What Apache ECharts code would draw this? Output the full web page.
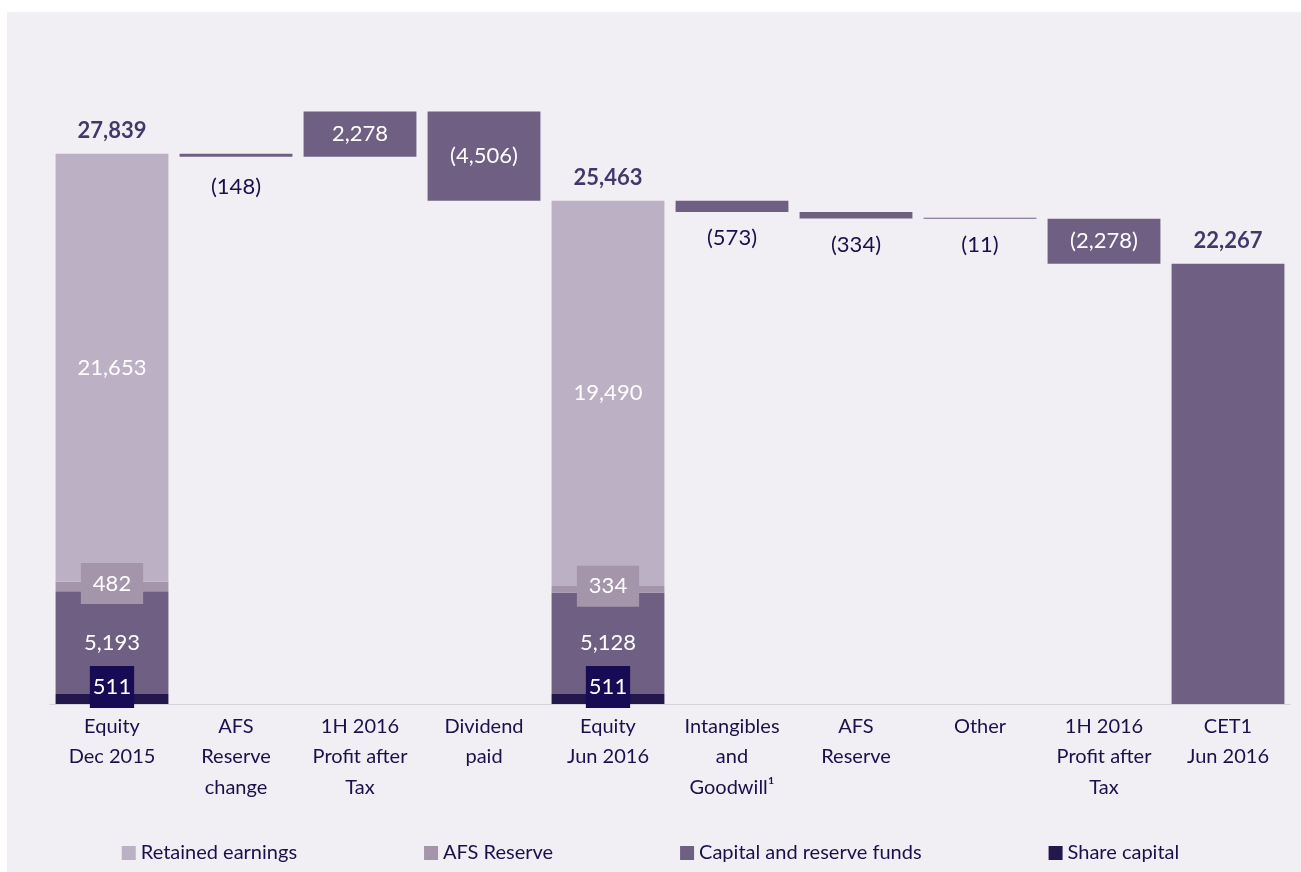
<!DOCTYPE html>
<html>
<head>
<meta charset="utf-8">
<script src="https://cdn.jsdelivr.net/npm/echarts@6/dist/echarts.min.js"></script>
<style>
html,body{margin:0;padding:0;background:#ffffff;}
#panel{position:absolute;left:7px;top:12px;width:1294px;height:860px;background:#f1eff3;}
#chart{position:absolute;left:0;top:0;width:1301px;height:872px;}
</style>
</head>
<body>
<div id="panel"></div>
<div id="chart"></div>
<script>
const categories = ["Equity\nDec 2015", "AFS\nReserve\nchange", "1H 2016\nProfit after\nTax", "Dividend\npaid", "Equity\nJun 2016", "Intangibles\nand\nGoodwill\u00b9", "AFS\nReserve", "Other", "1H 2016\nProfit after\nTax", "CET1\nJun 2016"];
const shareCapital = [511, null, null, null, 511, null, null, null, null, null];
const capitalReserve = [5193, null, null, null, 5128, null, null, null, null, null];
const afsReserve = [482, null, null, null, 334, null, null, null, null, null];
const retainedEarnings = [21653, null, null, null, 19490, null, null, null, null, null];
const changes = [null, -148, 2278, -4506, null, -573, -334, -11, -2278, null];
const cet1 = [null, null, null, null, null, null, null, null, null, 22267];
const totals = [27839, null, null, null, 25463, null, null, null, null, 22267];

const FONT = 'Lato';
const NAVY = '#1a104c';
const fmt = v => Math.abs(v).toLocaleString('en-US');

// waterfall bases from running totals
const base = [], delta = [];
let running = 0;
for (let i = 0; i < categories.length; i++) {
  if (totals[i] != null) { running = totals[i]; base.push(null); delta.push(null); continue; }
  if (changes[i] == null) { base.push(null); delta.push(null); continue; }
  const next = running + changes[i];
  base.push(Math.min(running, next));
  delta.push({
    value: Math.abs(changes[i]),
    raw: changes[i],
    label: Math.abs(changes[i]) > 1000
      ? { position: 'inside', color: '#ffffff' }
      : { position: 'bottom', color: NAVY, distance: i === 1 ? 19 : 15 }
  });
  running = next;
}

const chart = echarts.init(document.getElementById('chart'), null, {renderer: 'canvas'});
const valLabel = {show: true, position: 'inside', color: '#ffffff', fontSize: 22, fontFamily: FONT, formatter: p => fmt(p.value)};

chart.setOption({
  animation: false,
  textStyle: {fontFamily: FONT},
  grid: {left: 50, right: 11, top: 111, bottom: 168},
  legend: {
    data: ['Retained earnings', 'AFS Reserve', 'Capital and reserve funds', 'Share capital'],
    bottom: 4, left: 'center', itemWidth: 14, itemHeight: 14, itemGap: 127, icon: 'rect',
    textStyle: {fontSize: 20, color: NAVY, fontFamily: FONT}
  },
  xAxis: {
    type: 'category', data: categories,
    axisLine: {lineStyle: {color: '#d6d2da', width: 1}},
    axisTick: {show: false},
    axisLabel: {color: NAVY, fontSize: 20, lineHeight: 30.5, margin: 7, fontFamily: FONT, interval: 0}
  },
  yAxis: {type: 'value', min: 0, max: 30000, show: false, splitLine: {show: false}},
  series: [
    {name: 'base', type: 'bar', stack: 'w', barWidth: '91%', data: base, itemStyle: {color: 'transparent'}, silent: true},
    {name: 'change', type: 'bar', stack: 'w', data: delta, barMinHeight: 1, itemStyle: {color: '#6f6083'},
      label: {show: true, fontSize: 22, fontFamily: FONT, formatter: p => p.data.raw < 0 ? '(' + fmt(p.data.raw) + ')' : fmt(p.data.raw)}},
    {name: 'Share capital', type: 'bar', stack: 'w', data: shareCapital, itemStyle: {color: '#24174b'},
      label: Object.assign({}, valLabel, {backgroundColor: '#170b55', padding: [11, 3, 9, 3], offset: [0, -12]})},
    {name: 'Capital and reserve funds', type: 'bar', stack: 'w', data: capitalReserve, itemStyle: {color: '#6f6083'}, label: valLabel},
    {name: 'AFS Reserve', type: 'bar', stack: 'w', data: afsReserve, itemStyle: {color: '#a495ab'},
      label: Object.assign({}, valLabel, {backgroundColor: '#a495ab', padding: [10, 12, 9, 12], offset: [0, -3]})},
    {name: 'Retained earnings', type: 'bar', stack: 'w', data: retainedEarnings, itemStyle: {color: '#bcb0c4'}, label: valLabel},
    {name: 'CET1', type: 'bar', stack: 'w', data: cet1, itemStyle: {color: '#6f6083'}},
    {name: 'totals', type: 'scatter', data: totals, symbolSize: 0, itemStyle: {color: 'transparent'}, silent: true, z: 10,
      label: {show: true, position: 'top', distance: 12, color: '#140a45', fontSize: 22, fontWeight: 'bold', fontFamily: FONT, formatter: p => fmt(p.value)}}
  ]
});
</script>
</body>
</html>
